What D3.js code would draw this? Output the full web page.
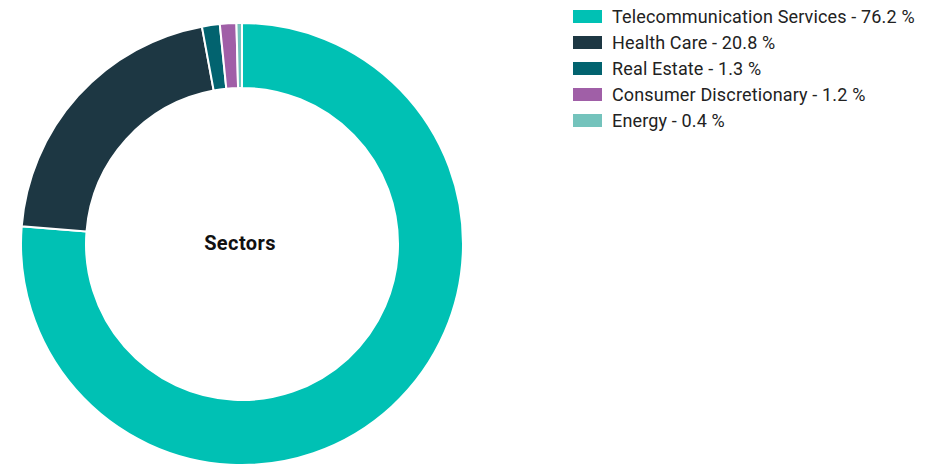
<!DOCTYPE html>
<html>
<head>
<meta charset="utf-8">
<script src="https://cdn.jsdelivr.net/npm/d3@7"></script>
<style>
  body { margin: 0; background: #fff; }
  svg { display: block; }
</style>
</head>
<body>
<div id="chart"></div>
<script>
document.addEventListener('DOMContentLoaded', function(e) {

    // Daten
    var sectors = ["Telecommunication Services", "Health Care", "Real Estate", "Consumer Discretionary", "Energy"];
    var shares = [76.2, 20.8, 1.3, 1.2, 0.4];
    var colors = ["#00c1b4", "#1d3743", "#02636f", "#a05fa7", "#74c3bc"];

    var width = 944, height = 467;

    var svg = d3.select("#chart")
    .append("svg")
        .attr("width", width)
        .attr("height", height);

    var data = sectors.map(function(s, i){ return {name: s, value: shares[i], color: colors[i]} });

    // Donut
    var pie = d3.pie().sort(null).value(function(d){ return d.value });
    var arc = d3.arc().innerRadius(156).outerRadius(221);

    var g = svg.append("g")
        .attr("transform", "translate(242,244)");

    g.selectAll("path")
    .data(pie(data))
    .enter()
    .append("path")
        .attr("d", arc)
        .style("fill", function(d){ return d.data.color })
        .style("stroke", "#fff")
        .style("stroke-width", 2);

    g.append("text")
        .attr("text-anchor", "middle")
        .attr("x", -2)
        .attr("y", 6)
        .attr("font-family", "Roboto, sans-serif")
        .attr("font-weight", "bold")
        .attr("font-size", "20px")
        .attr("letter-spacing", "0.4px")
        .attr("fill", "#111")
        .text("Sectors");

    // Legende
    var y = d3.scaleBand().domain(sectors).range([10, 140]);

    var legend = svg.selectAll("legend")
    .data(data)
    .enter()
    .append("g")
        .attr("transform", function(d){ return "translate(573," + y(d.name) + ")" });

    legend.append("rect")
        .attr("width", 29)
        .attr("height", 13)
        .style("fill", function(d){ return d.color });

    legend.append("text")
        .attr("x", 39)
        .attr("y", 13)
        .attr("font-family", "Roboto, sans-serif")
        .attr("font-size", "18px")
        .attr("letter-spacing", "0.15px")
        .attr("fill", "#222")
        .text(function(d){ return d.name + " - " + d.value.toFixed(1) + " %" });
})
</script>
</body>
</html>
